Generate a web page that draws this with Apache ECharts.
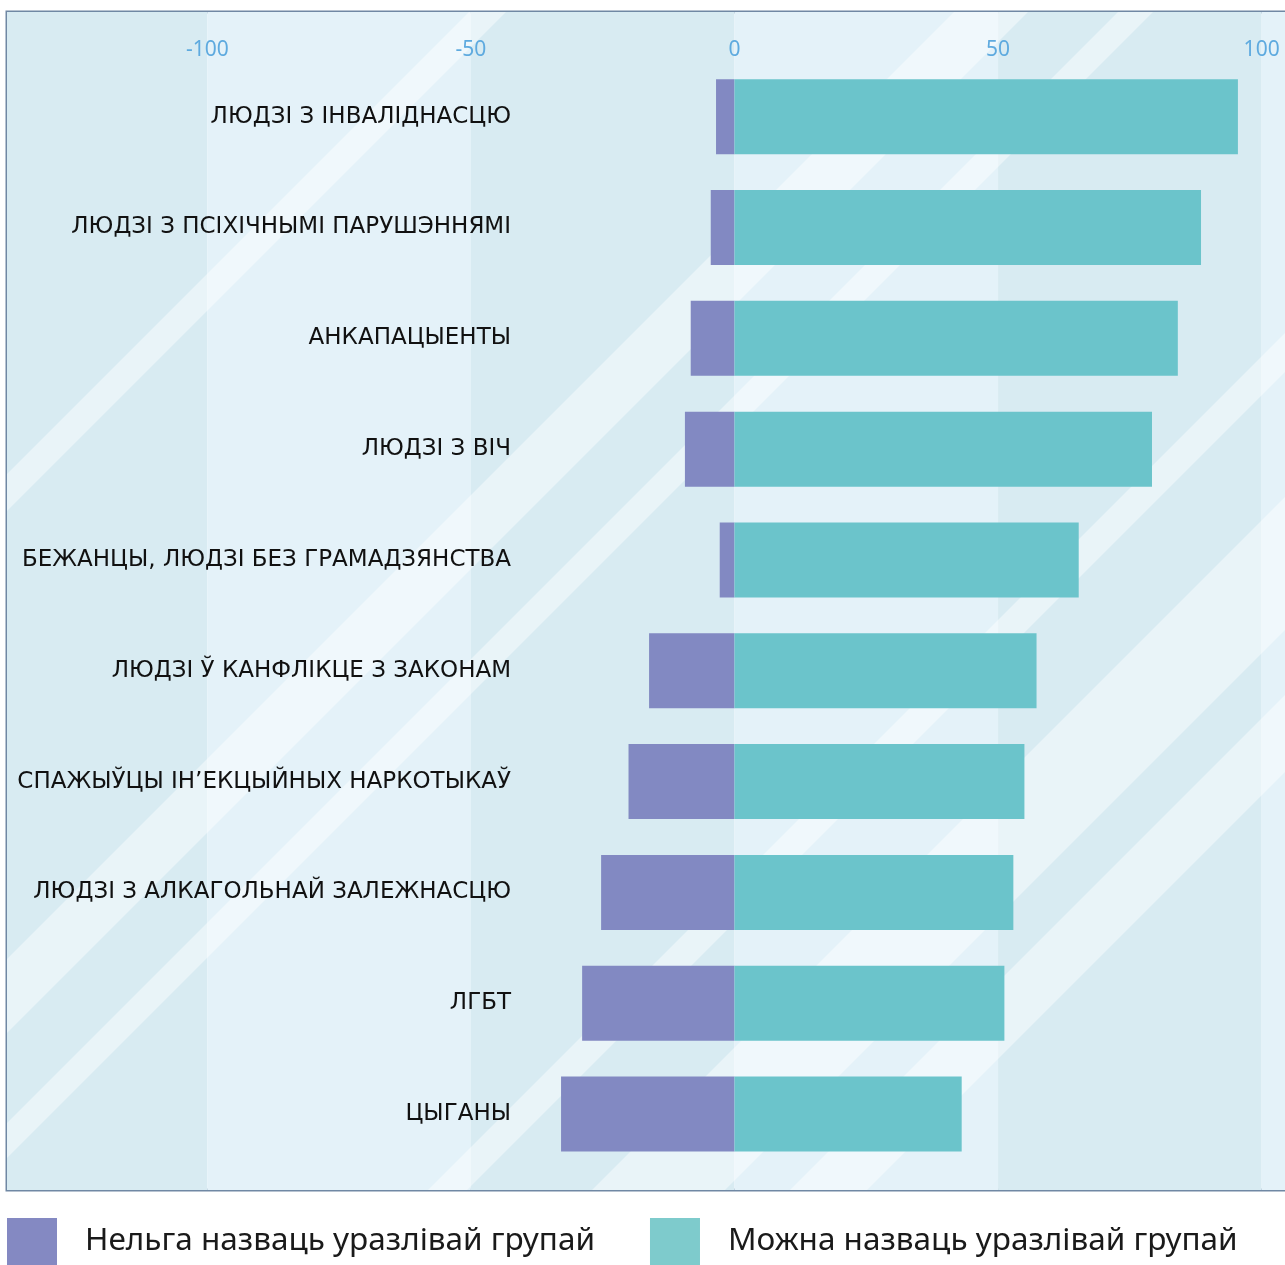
<!DOCTYPE html>
<html>
<head>
<meta charset="utf-8">
<script src="https://cdn.jsdelivr.net/npm/echarts@6/dist/echarts.min.js"></script>
<style>
  html, body { margin: 0; padding: 0; background: #fff; }
  #chart { width: 1285px; height: 1265px; }
</style>
</head>
<body>
<div id="chart"></div>
<script>
const categories = [
  "ЛЮДЗІ З ІНВАЛІДНАСЦЮ",
  "ЛЮДЗІ З ПСІХІЧНЫМІ ПАРУШЭННЯМІ",
  "АНКАПАЦЫЕНТЫ",
  "ЛЮДЗІ З ВІЧ",
  "БЕЖАНЦЫ, ЛЮДЗІ БЕЗ ГРАМАДЗЯНСТВА",
  "ЛЮДЗІ Ў КАНФЛІКЦЕ З ЗАКОНАМ",
  "СПАЖЫЎЦЫ ІН’ЕКЦЫЙНЫХ НАРКОТЫКАЎ",
  "ЛЮДЗІ З АЛКАГОЛЬНАЙ ЗАЛЕЖНАСЦЮ",
  "ЛГБТ",
  "ЦЫГАНЫ"
];
const cannotName = [-3.5, -4.5, -8.3, -9.4, -2.8, -16.2, -20.1, -25.3, -28.9, -32.9];
const canName = [95.5, 88.5, 84.1, 79.2, 65.3, 57.3, 55.0, 52.9, 51.2, 43.1];
const seriesNames = ["Нельга назваць уразлівай групай", "Можна назваць уразлівай групай"];

// decorative diagonal bands (x + y = c in page pixels)
const stripeBands = [[481, 518], [966, 1040], [1130, 1165], [1618, 1657], [1782, 1915], [1980, 2057]];
const plotRect = { x0: 7, y0: 12, x1: 1285, y1: 1190 };

function clipHalf(points, f) {
  const out = [];
  for (let i = 0; i < points.length; i++) {
    const a = points[i];
    const b = points[(i + 1) % points.length];
    const fa = f(a), fb = f(b);
    if (fa >= 0) out.push(a);
    if ((fa >= 0) !== (fb >= 0)) {
      const t = fa / (fa - fb);
      out.push([a[0] + t * (b[0] - a[0]), a[1] + t * (b[1] - a[1])]);
    }
  }
  return out;
}

function bandPolygon(c1, c2) {
  let pts = [
    [plotRect.x0, plotRect.y0], [plotRect.x1, plotRect.y0],
    [plotRect.x1, plotRect.y1], [plotRect.x0, plotRect.y1]
  ];
  pts = clipHalf(pts, (p) => p[0] + p[1] - c1);
  pts = clipHalf(pts, (p) => c2 - p[0] - p[1]);
  return pts;
}

const chart = echarts.init(document.getElementById("chart"));

const option = {
  animation: false,
  backgroundColor: "#fff",
  grid: [
    {
      left: 7, top: 12, right: -3, bottom: 75,
      outerBoundsMode: "none",
      containLabel: false,
      show: true,
      borderColor: "#7088a4",
      borderWidth: 3,
      backgroundColor: "transparent"
    },
    {
      left: 7, top: 61.3, right: -3, bottom: 95.6,
      outerBoundsMode: "none",
      containLabel: false
    }
  ],
  graphic: stripeBands.map((b) => ({
    type: "polygon",
    silent: true,
    z: 1,
    shape: { points: bandPolygon(b[0], b[1]) },
    style: { fill: "rgba(255,255,255,0.45)" }
  })),
  xAxis: [
    {
      gridIndex: 0,
      type: "value",
      min: -138,
      max: 105,
      splitNumber: 5,
      z: 0,
      axisLine: { show: false },
      axisTick: { show: false },
      axisLabel: { show: false },
      splitLine: { show: false },
      splitArea: {
        show: true,
        areaStyle: { color: ["#d8ebf2", "#e4f2f9"] }
      }
    },
    {
      gridIndex: 1,
      type: "value",
      position: "top",
      min: -138,
      max: 105,
      splitNumber: 5,
      z: 3,
      axisLine: { show: false },
      axisTick: { show: false },
      splitLine: { show: false },
      axisLabel: {
        margin: 11,
        verticalAlign: "middle",
        color: "#5eaadf",
        fontSize: 21,
        fontFamily: "Noto Sans",
        formatter: (v) => (v % 50 === 0 ? String(v) : "")
      }
    }
  ],
  yAxis: [
    {
      gridIndex: 1,
      type: "category",
      position: "left",
      data: categories,
      inverse: true,
      z: 3,
      axisLine: { show: false, onZero: false },
      axisTick: { show: false },
      axisLabel: {
        margin: -504,
        align: "right",
        color: "#111",
        fontSize: 23,
        fontFamily: "DejaVu Sans"
      }
    },
    {
      gridIndex: 0,
      type: "value",
      show: false,
      splitLine: { show: false }
    }
  ],
  legend: {
    left: 7,
    top: 1218,
    padding: 0,
    icon: "rect",
    itemWidth: 50,
    itemHeight: 47,
    itemGap: 55,
    data: [
      { name: seriesNames[0], itemStyle: { color: "#8489c2" } },
      { name: seriesNames[1], itemStyle: { color: "#7ecbcc" } }
    ],
    textStyle: {
      fontSize: 31.5,
      color: "#1a1a1a",
      fontFamily: "Noto Sans",
      padding: [0, 0, 4, 23]
    }
  },
  series: [
    {
      name: seriesNames[0],
      type: "bar",
      xAxisIndex: 1,
      yAxisIndex: 0,
      data: cannotName,
      barWidth: 75,
      barGap: "-100%",
      itemStyle: { color: "#8289c2" }
    },
    {
      name: seriesNames[1],
      type: "bar",
      xAxisIndex: 1,
      yAxisIndex: 0,
      data: canName,
      barWidth: 75,
      barGap: "-100%",
      itemStyle: { color: "#6bc4cb" }
    }
  ]
};

chart.setOption(option);
</script>
</body>
</html>
